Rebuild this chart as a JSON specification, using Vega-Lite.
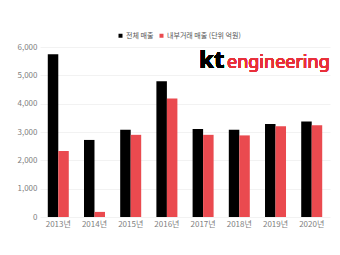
{
  "$schema": "https://vega.github.io/schema/vega-lite/v6.json",
  "width": 290,
  "height": 170,
  "autosize": "none",
  "padding": {"left": 40, "top": 47, "right": 10, "bottom": 38},
  "background": "white",
  "config": {
    "font": "Noto Sans CJK KR",
    "view": {"stroke": null},
    "axis": {"labelFont": "Noto Sans CJK KR", "labelColor": "#808080", "labelFontSize": 8, "ticks": false, "domain": false, "title": null}
  },
  "data": {"values": [
    {"year": "2013년", "series": "전체 매출", "value": 5740},
    {"year": "2013년", "series": "내부거래 매출 (단위 억원)", "value": 2330},
    {"year": "2014년", "series": "전체 매출", "value": 2720},
    {"year": "2014년", "series": "내부거래 매출 (단위 억원)", "value": 180},
    {"year": "2015년", "series": "전체 매출", "value": 3080},
    {"year": "2015년", "series": "내부거래 매출 (단위 억원)", "value": 2900},
    {"year": "2016년", "series": "전체 매출", "value": 4790},
    {"year": "2016년", "series": "내부거래 매출 (단위 억원)", "value": 4180},
    {"year": "2017년", "series": "전체 매출", "value": 3110},
    {"year": "2017년", "series": "내부거래 매출 (단위 억원)", "value": 2900},
    {"year": "2018년", "series": "전체 매출", "value": 3080},
    {"year": "2018년", "series": "내부거래 매출 (단위 억원)", "value": 2880},
    {"year": "2019년", "series": "전체 매출", "value": 3280},
    {"year": "2019년", "series": "내부거래 매출 (단위 억원)", "value": 3200},
    {"year": "2020년", "series": "전체 매출", "value": 3370},
    {"year": "2020년", "series": "내부거래 매출 (단위 억원)", "value": 3240}
  ]},
  "resolve": {"axis": {"y": "independent", "x": "independent"}},
  "layer": [
    {
      "mark": {"type": "bar"},
      "encoding": {
        "x": {"field": "year", "type": "nominal", "scale": {"paddingInner": 0.42, "paddingOuter": 0.215}, "axis": {"labelAngle": 0, "labelPadding": 3, "grid": false}},
        "xOffset": {"field": "series", "type": "nominal", "sort": ["전체 매출", "내부거래 매출 (단위 억원)"], "scale": {"paddingInner": 0}},
        "y": {"field": "value", "type": "quantitative", "scale": {"domain": [0, 6000], "nice": false}, "axis": {"values": [0, 1000, 2000, 3000, 4000, 5000, 6000], "labelOverlap": false, "format": ",.0f", "gridColor": "#f2f2f2", "labelPadding": 3}},
        "color": {"field": "series", "type": "nominal", "sort": ["전체 매출", "내부거래 매출 (단위 억원)"], "scale": {"range": ["#000000", "#EA4A4F"]},
          "legend": {"title": null, "orient": "none", "legendX": 77, "legendY": -15, "direction": "horizontal", "symbolType": "square", "symbolSize": 16, "labelFontSize": 7, "labelColor": "#555555", "columnPadding": 4, "symbolOffset": 0, "labelOffset": 2}}
      }
    },
    {
      "mark": {"type": "text", "font": "Noto Sans", "fontWeight": "bold", "fontSize": 24, "align": "left", "baseline": "alphabetic", "color": "#000000", "dx": -4},
      "encoding": {
        "x": {"datum": "2017년", "type": "nominal", "axis": null},
        "y": {"datum": 5250, "type": "quantitative", "axis": null},
        "text": {"value": "kt"}
      }
    },
    {
      "mark": {"type": "text", "font": "Noto Sans", "fontWeight": "normal", "fontSize": 18, "align": "right", "baseline": "alphabetic", "color": "#E8303A", "dx": 18},
      "encoding": {
        "x": {"datum": "2020년", "type": "nominal", "axis": null},
        "y": {"datum": 5250, "type": "quantitative", "axis": null},
        "text": {"value": "engineering"}
      }
    }
  ]
}
